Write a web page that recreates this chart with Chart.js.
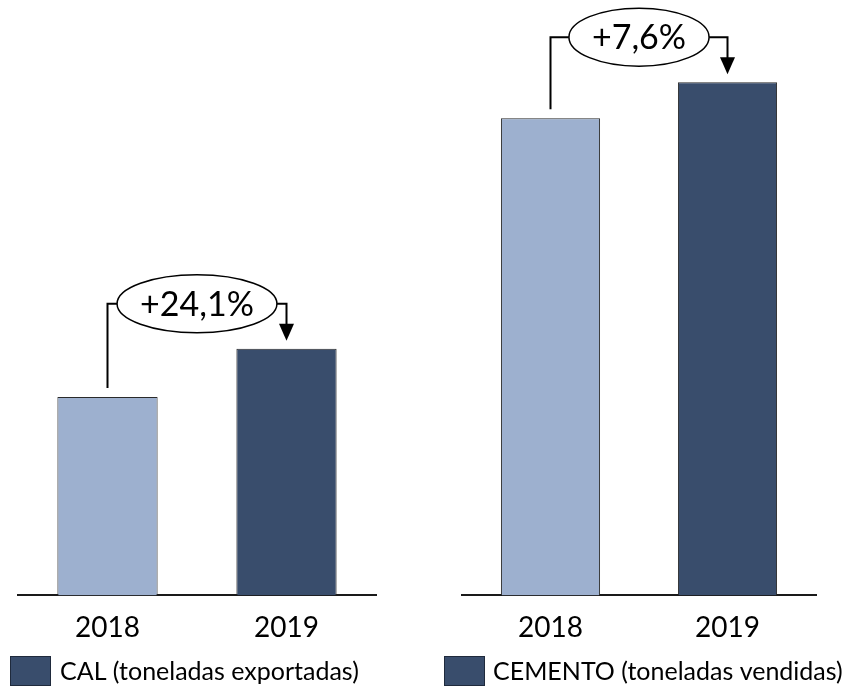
<!DOCTYPE html>
<html>
<head>
<meta charset="utf-8">
<script src="https://cdn.jsdelivr.net/npm/chart.js@4/dist/chart.umd.min.js"></script>
<style>
  html, body { margin: 0; padding: 0; background: #ffffff; }
  #wrap { position: relative; width: 847px; height: 691px; overflow: hidden; }
  #c1 { position: absolute; left: 0; top: 0; }
  #c2 { position: absolute; left: 423px; top: 0; }
</style>
</head>
<body>
<div id="wrap">
  <canvas id="c1" width="423" height="691"></canvas>
  <canvas id="c2" width="424" height="691"></canvas>
</div>
<script>
// ---- data ----
const categories = ['2018', '2019'];
const calValues = [198, 246];
const cementoValues = [476, 512];
const calChange = '+24,1%';
const cementoChange = '+7,6%';
const calLegend = 'CAL (toneladas exportadas)';
const cementoLegend = 'CEMENTO (toneladas vendidas)';
const yMax = 584;

// ---- styles ----
const LIGHT = '#9db0cf';
const DARK = '#394d6c';
const FONT = 'Lato, "Liberation Sans", sans-serif';

const annotationPlugin = {
  id: 'changeAnnotation',
  afterDatasetsDraw(chart, args, opts) {
    const ctx = chart.ctx;
    const bars = chart.getDatasetMeta(0).data;
    const x1 = bars[0].x, y1 = bars[0].y;
    const x2 = bars[1].x, y2 = bars[1].y;
    const connY = y2 - 45;
    const cx = (x1 + x2) / 2;
    ctx.save();
    ctx.font = '34px ' + FONT;
    const tw = ctx.measureText(opts.text).width;
    const rx = tw / 2 + 23, ry = 29;
    ctx.strokeStyle = '#000';
    ctx.lineWidth = 2;
    ctx.beginPath();
    ctx.moveTo(x1, y1 - 9);
    ctx.lineTo(x1, connY);
    ctx.lineTo(cx - rx, connY);
    ctx.moveTo(cx + rx, connY);
    ctx.lineTo(x2, connY);
    ctx.lineTo(x2, y2 - 24);
    ctx.stroke();
    // arrow head
    ctx.fillStyle = '#000';
    ctx.beginPath();
    ctx.moveTo(x2 - 7.5, y2 - 25);
    ctx.lineTo(x2 + 7.5, y2 - 25);
    ctx.lineTo(x2, y2 - 8);
    ctx.closePath();
    ctx.fill();
    // ellipse
    ctx.beginPath();
    ctx.ellipse(cx, connY, rx, ry, 0, 0, Math.PI * 2);
    ctx.fillStyle = '#fff';
    ctx.fill();
    ctx.lineWidth = 1.5;
    ctx.stroke();
    ctx.fillStyle = '#000';
    ctx.textAlign = 'center';
    ctx.textBaseline = 'middle';
    ctx.fillText(opts.text, cx, connY + 1);
    ctx.restore();
  },
  afterDraw(chart, args, opts) {
    const ctx = chart.ctx;
    ctx.save();
    ctx.fillStyle = DARK;
    ctx.fillRect(opts.boxX, 656, 40, 29);
    ctx.strokeStyle = '#1f2a3c';
    ctx.lineWidth = 1;
    ctx.strokeRect(opts.boxX + 0.5, 656.5, 40, 29);
    ctx.fillStyle = '#000';
    ctx.font = '25px ' + FONT;
    ctx.textAlign = 'left';
    ctx.textBaseline = 'middle';
    ctx.fillText(opts.legend, opts.textX, 672);
    ctx.restore();
  }
};

function makeChart(id, values, change, legend, pad, boxX, textX) {
  return new Chart(document.getElementById(id), {
    type: 'bar',
    data: {
      labels: categories,
      datasets: [{
        data: values,
        backgroundColor: [LIGHT, DARK],
        borderColor: '#2a2a2a',
        borderWidth: 1,
        categoryPercentage: 1,
        barPercentage: 0.56
      }]
    },
    options: {
      responsive: false,
      animation: false,
      layout: { padding: pad },
      plugins: {
        legend: { display: false },
        tooltip: { enabled: false },
        changeAnnotation: { text: change, legend: legend, boxX: boxX, textX: textX }
      },
      scales: {
        x: {
          grid: { display: false, drawTicks: false },
          border: { display: true, color: '#1a1a1a', width: 2 },
          ticks: { color: '#000', font: { family: FONT, size: 28 }, padding: 16 }
        },
        y: { display: false, min: 0, max: yMax }
      }
    },
    plugins: [annotationPlugin]
  });
}

makeChart('c1', calValues, calChange, calLegend,
  { top: 10, bottom: 30, left: 18, right: 47 }, 10, 60);
makeChart('c2', cementoValues, cementoChange, cementoLegend,
  { top: 10, bottom: 30, left: 39, right: 31 }, 21, 70);
</script>
</body>
</html>
